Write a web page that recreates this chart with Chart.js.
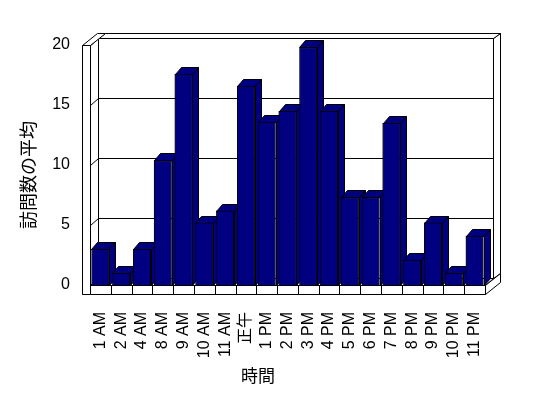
<!DOCTYPE html>
<html>
<head>
<meta charset="utf-8">
<script src="https://cdn.jsdelivr.net/npm/chart.js@4/dist/chart.umd.min.js"></script>
<style>
  html, body { margin: 0; padding: 0; background: #fff; }
</style>
</head>
<body>
<canvas id="visitChart" width="548" height="398"></canvas>
<script>
var hours = ['1 AM', '2 AM', '4 AM', '8 AM', '9 AM', '10 AM', '11 AM', '正午', '1 PM', '2 PM',
  '3 PM', '4 PM', '5 PM', '6 PM', '7 PM', '8 PM', '9 PM', '10 PM', '11 PM'];
var avgVisits = [3.0, 1.0, 3.0, 10.4, 17.6, 5.2, 6.2, 16.6, 13.6, 14.5,
  19.8, 14.5, 7.3, 7.3, 13.5, 2.1, 5.2, 1.0, 4.1];
var yTicks = [0, 5, 10, 15, 20];
var xTitle = '時間';
var yTitle = '訪問数の平均';

// 3d look
var depth = {x: 8, y: -7};
var wall = {x: 7, y: -5};
var barDepth = {x: 6, y: -7};
var wallW = 8, floorH = 9;
var navy = '#000080';
var fontFam = '"Liberation Sans", "Noto Sans CJK JP", sans-serif';

function px(v) { return Math.round(v) + 0.5; }

function poly(ctx, pts, fill) {
  ctx.beginPath();
  ctx.moveTo(px(pts[0][0]), px(pts[0][1]));
  for (var i = 1; i < pts.length; i++) ctx.lineTo(px(pts[i][0]), px(pts[i][1]));
  ctx.closePath();
  ctx.fillStyle = fill;
  ctx.fill();
  ctx.stroke();
}

function line(ctx, x1, y1, x2, y2) {
  ctx.beginPath();
  ctx.moveTo(px(x1), px(y1));
  ctx.lineTo(px(x2), px(y2));
  ctx.stroke();
}

var boxPlugin = {
  id: 'box3d',
  beforeDatasetsDraw: function(chart) {
    var ctx = chart.ctx, a = chart.chartArea, ys = chart.scales.y;
    var L = a.left, R = a.right, T = a.top, B = a.bottom;
    var dx = depth.x, dy = depth.y, tx = depth.x + wall.x, ty = depth.y + wall.y;
    ctx.save();
    ctx.strokeStyle = '#000';
    ctx.lineWidth = 1;
    // back wall
    poly(ctx, [[R + dx, T + dy], [R + tx, T + ty], [R + tx, B + ty], [R + dx, B + dy]], '#fff');
    poly(ctx, [[L + dx, T + dy], [L + tx, T + ty], [R + tx, T + ty], [R + dx, T + dy]], '#fff');
    poly(ctx, [[L + dx, T + dy], [R + dx, T + dy], [R + dx, B + dy], [L + dx, B + dy]], '#fff');
    // left wall inner side
    poly(ctx, [[L, T], [L + dx, T + dy], [L + dx, B + dy], [L, B]], '#fff');
    // gridlines
    yTicks.forEach(function(v) {
      var y = ys.getPixelForValue(v);
      line(ctx, L + dx, y + dy, R + dx, y + dy);
      line(ctx, L, y, L + dx, y + dy);
    });
    // floor
    poly(ctx, [[L, B], [R, B], [R + dx, B + dy], [L + dx, B + dy]], '#fff');
    poly(ctx, [[R, B], [R + tx, B + ty], [R + tx, B + ty + floorH], [R, B + floorH]], '#fff');
    poly(ctx, [[L - wallW, B], [R, B], [R, B + floorH], [L - wallW, B + floorH]], '#fff');
    for (var i = 0; i <= hours.length; i++) {
      var xx = L + (R - L) * i / hours.length;
      line(ctx, xx, B, xx, B + floorH);
    }
    // left wall front + top
    poly(ctx, [[L - wallW, T], [L, T], [L + tx, T + ty], [L - wallW + tx, T + ty]], '#fff');
    poly(ctx, [[L - wallW, T], [L, T], [L, B + floorH], [L - wallW, B + floorH]], '#fff');
    ctx.restore();
  },
  afterDatasetsDraw: function(chart) {
    var ctx = chart.ctx;
    var meta = chart.getDatasetMeta(0);
    ctx.save();
    ctx.strokeStyle = '#000';
    ctx.lineWidth = 1;
    meta.data.forEach(function(bar) {
      var p = bar.getProps(['x', 'y', 'base', 'width'], true);
      var l = p.x - p.width / 2, r = p.x + p.width / 2;
      var bx = barDepth.x, by = barDepth.y;
      poly(ctx, [[r, p.y], [r + bx, p.y + by], [r + bx, p.base + by], [r, p.base]], navy);
      poly(ctx, [[l, p.y], [l + bx, p.y + by], [r + bx, p.y + by], [r, p.y]], navy);
      bar.draw(ctx);
    });
    ctx.restore();
  },
  afterDraw: function(chart) {
    var ctx = chart.ctx;
    ctx.save();
    ctx.fillStyle = '#000';
    ctx.textAlign = 'center';
    ctx.textBaseline = 'middle';
    ctx.font = '17px "Noto Sans CJK JP", sans-serif';
    ctx.fillText(xTitle, 258, 376);
    ctx.font = '18px "Noto Sans CJK JP", sans-serif';
    ctx.translate(28, 175);
    ctx.rotate(-Math.PI / 2);
    ctx.fillText(yTitle, 0, 0);
    ctx.restore();
  }
};

var visitChart = new Chart(document.getElementById('visitChart'), {
  type: 'bar',
  data: {
    labels: hours,
    datasets: [{
      label: yTitle,
      data: avgVisits,
      backgroundColor: navy,
      borderColor: '#000',
      borderWidth: 1,
      barPercentage: 0.86,
      categoryPercentage: 1.0
    }]
  },
  options: {
    responsive: false,
    animation: false,
    layout: { padding: { left: 0, top: 45, right: 63, bottom: 0 } },
    plugins: {
      legend: { display: false },
      tooltip: { enabled: false }
    },
    scales: {
      x: {
        grid: { display: false, drawTicks: false },
        border: { display: false },
        ticks: {
          minRotation: 90, maxRotation: 90, autoSkip: false, padding: 27,
          color: '#000', font: { family: fontFam, size: 16 }
        },
        afterFit: function(s) { s.height = 113; }
      },
      y: {
        min: 0, max: 20,
        grid: { display: false, drawTicks: false },
        border: { display: false },
        ticks: {
          stepSize: 5, padding: 20,
          color: '#000', font: { family: fontFam, size: 16 }
        },
        afterFit: function(s) { s.width = 90; }
      }
    }
  },
  plugins: [boxPlugin]
});
</script>
</body>
</html>
